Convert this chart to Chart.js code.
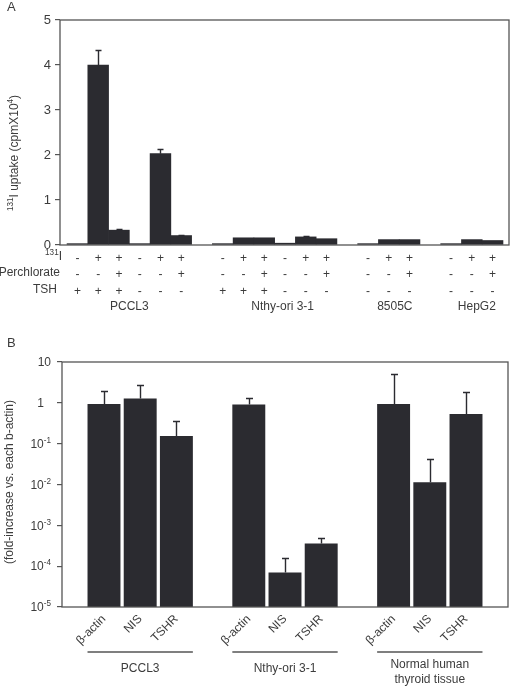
<!DOCTYPE html>
<html>
<head>
<meta charset="utf-8">
<script src="https://cdn.jsdelivr.net/npm/chart.js@4.4.0/dist/chart.umd.min.js"></script>
<style>
  body { margin: 0; background: #fff; width: 513px; height: 687px; overflow: hidden; position: relative; }
  .panel { position: absolute; left: 0; }
  #wrapA { top: 0; }
  #wrapB { top: 330px; }
</style>
</head>
<body>
<div class="panel" id="wrapA"><canvas id="chartA" width="513" height="320"></canvas></div>
<div class="panel" id="wrapB"><canvas id="chartB" width="513" height="357"></canvas></div>
<script>
// ---- Panel A: 131I uptake ----
// slot index of each bar on the x axis (6, 13 and 17 are the gaps between cell lines)
const uptakeSlots = [0, 1, 2, 3, 4, 5, 7, 8, 9, 10, 11, 12, 14, 15, 16, 18, 19, 20];
const uptake = [0.03, 4.0, 0.33, 0.03, 2.03, 0.21, 0.03, 0.16, 0.16, 0.04, 0.18, 0.14, 0.03, 0.12, 0.12, 0.03, 0.12, 0.10];
const uptakeErr = [null, 4.33, 0.36, null, 2.13, 0.23, null, null, null, null, 0.21, null, null, null, null, null, null, null];
const iodineRow = ['-', '+', '+', '-', '+', '+', '-', '+', '+', '-', '+', '+', '-', '+', '+', '-', '+', '+'];
const perchlorateRow = ['-', '-', '+', '-', '-', '+', '-', '-', '+', '-', '-', '+', '-', '-', '+', '-', '-', '+'];
const tshRow = ['+', '+', '+', '-', '-', '-', '+', '+', '+', '-', '-', '-', '-', '-', '-', '-', '-', '-'];
const cellLinesA = ['PCCL3', 'Nthy-ori 3-1', '8505C', 'HepG2'];
const cellLineSpanA = [[0, 5], [7, 12], [14, 16], [18, 20]];
const yTicksA = [0, 1, 2, 3, 4, 5];

// ---- Panel B: relative expression (log scale) ----
const exprSlots = [0, 1, 2, 4, 5, 6, 8, 9, 10];
const genes = ['β-actin', 'NIS', 'TSHR', 'β-actin', 'NIS', 'TSHR', 'β-actin', 'NIS', 'TSHR'];
const expr = [0.93, 1.27, 0.155, 0.91, 7e-5, 3.6e-4, 0.93, 0.0114, 0.53];
const exprErr = [1.93, 2.7, 0.36, 1.32, 1.55e-4, 4.8e-4, 5.2, 0.041, 1.82];
const tissuesB = [['PCCL3'], ['Nthy-ori 3-1'], ['Normal human', 'thyroid tissue']];
const tissueSpanB = [[0, 2], [4, 6], [8, 10]];
const yTicksB = [1e-5, 1e-4, 1e-3, 1e-2, 1e-1, 1, 10];

const barColor = '#2b2b30';
const axisColor = '#555';
const textColor = '#3c3c3c';
const fontFamily = '"Liberation Sans", Arial, sans-serif';

Chart.defaults.font.family = fontFamily;
Chart.defaults.color = textColor;
Chart.defaults.animation = false;

// text with superscript parts: parts = [[text, isSup], ...]
function richWidth(ctx, parts, size) {
  let w = 0;
  parts.forEach(([t, sup]) => {
    ctx.font = (sup ? size * 0.68 : size) + 'px ' + fontFamily;
    w += ctx.measureText(t).width;
  });
  return w;
}
function drawRich(ctx, parts, x, y, size, align) {
  const w = richWidth(ctx, parts, size);
  let cx = align === 'right' ? x - w : align === 'center' ? x - w / 2 : x;
  ctx.textAlign = 'left';
  ctx.textBaseline = 'alphabetic';
  parts.forEach(([t, sup]) => {
    ctx.font = (sup ? size * 0.68 : size) + 'px ' + fontFamily;
    ctx.fillText(t, cx, y + size * 0.36 - (sup ? size * 0.42 : 0));
    cx += ctx.measureText(t).width;
  });
}

// error bars, frame and extra labels, all placed through the chart scales
function extrasPlugin(cfg) {
  return {
    id: 'extras' + cfg.name,
    afterDatasetsDraw(chart) {
      const { ctx, chartArea: a, scales: { x, y } } = chart;
      ctx.save();
      // error bars (upper only)
      ctx.strokeStyle = barColor;
      ctx.lineWidth = 1.4;
      cfg.err.forEach((e, i) => {
        if (e == null) return;
        const px = Math.round(x.getPixelForValue(cfg.slots[i])) + 0.5;
        const y0 = y.getPixelForValue(cfg.values[i]);
        const y1 = Math.round(y.getPixelForValue(e)) + 0.5;
        ctx.beginPath();
        ctx.moveTo(px, y0);
        ctx.lineTo(px, y1);
        ctx.moveTo(px - cfg.cap, y1);
        ctx.lineTo(px + cfg.cap, y1);
        ctx.stroke();
      });
      // box frame
      ctx.strokeStyle = axisColor;
      ctx.lineWidth = 1.3;
      ctx.strokeRect(a.left, a.top, a.right - a.left, a.bottom - a.top);
      // panel letter
      ctx.fillStyle = textColor;
      ctx.font = '13px ' + fontFamily;
      ctx.textAlign = 'left';
      ctx.textBaseline = 'middle';
      ctx.fillText(cfg.letter, 7, cfg.letterY);
      // y axis title
      ctx.save();
      ctx.translate(cfg.titleX, cfg.titleY);
      ctx.rotate(-Math.PI / 2);
      drawRich(ctx, cfg.title, 0, 0, cfg.titleFont, 'center');
      ctx.restore();
      cfg.draw(ctx, chart);
      ctx.restore();
    }
  };
}

// ---------- Chart A ----------
new Chart(document.getElementById('chartA'), {
  type: 'bar',
  data: {
    datasets: [{
      data: uptakeSlots.map((s, i) => ({ x: s, y: uptake[i] })),
      backgroundColor: barColor,
      borderWidth: 0,
      barPercentage: 1,
      categoryPercentage: 1
    }]
  },
  options: {
    responsive: false,
    layout: { padding: { top: 20, right: 4, left: 0, bottom: 0 } },
    plugins: { legend: { display: false }, tooltip: { enabled: false } },
    scales: {
      x: {
        type: 'linear',
        offset: false,
        min: -0.84,
        max: 20.79,
        grid: { display: false, drawTicks: false },
        border: { display: false },
        afterBuildTicks: s => { s.ticks = uptakeSlots.map(v => ({ value: v })); },
        afterFit: s => { s.height = 75; },
        ticks: {
          autoSkip: false,
          maxRotation: 0,
          padding: 6,
          font: { size: 12, lineHeight: 1.34 },
          color: textColor,
          callback: v => {
            const k = uptakeSlots.indexOf(v);
            return k < 0 ? '' : [iodineRow[k], perchlorateRow[k], tshRow[k]];
          }
        }
      },
      y: {
        min: 0,
        max: 5,
        grid: { drawOnChartArea: false, tickLength: 5, color: axisColor, lineWidth: 1.2 },
        border: { display: false },
        afterBuildTicks: s => { s.ticks = yTicksA.map(v => ({ value: v })); },
        afterFit: s => { s.width = 60; },
        ticks: { padding: 4, font: { size: 13 }, color: textColor }
      }
    }
  },
  plugins: [extrasPlugin({
    name: 'A', slots: uptakeSlots, values: uptake, err: uptakeErr, cap: 3,
    letter: 'A', letterY: 7,
    title: [['131', true], ['I uptake (cpmX10', false], ['4', true], [')', false]],
    titleX: 14, titleY: 153, titleFont: 12,
    draw(ctx, chart) {
      const x = chart.scales.x;
      drawRich(ctx, [['131', true], ['I', false]], 62, 256, 12, 'right');
      drawRich(ctx, [['Perchlorate', false]], 60, 272, 12, 'right');
      drawRich(ctx, [['TSH', false]], 57, 289, 12, 'right');
      const nudge = [0, 8, 6, 5];
      cellLinesA.forEach((t, i) => {
        const [a, b] = cellLineSpanA[i];
        const cx = (x.getPixelForValue(a) + x.getPixelForValue(b)) / 2 + nudge[i];
        drawRich(ctx, [[t, false]], cx, 306, 12, 'center');
      });
    }
  })]
});

// ---------- Chart B ----------
const expParts = v => {
  const e = Math.round(Math.log10(v));
  if (e === 1) return [['10', false]];
  if (e === 0) return [['1', false]];
  return [['10', false], [String(e), true]];
};

new Chart(document.getElementById('chartB'), {
  type: 'bar',
  data: {
    datasets: [{
      data: exprSlots.map((s, i) => ({ x: s, y: expr[i] })),
      backgroundColor: barColor,
      borderWidth: 0,
      barPercentage: 0.91,
      categoryPercentage: 1
    }]
  },
  options: {
    responsive: false,
    layout: { padding: { top: 32, right: 5, left: 0, bottom: 0 } },
    plugins: { legend: { display: false }, tooltip: { enabled: false } },
    scales: {
      x: {
        type: 'linear',
        offset: false,
        min: -1.16,
        max: 11.16,
        grid: { display: false, drawTicks: false },
        border: { display: false },
        afterBuildTicks: s => { s.ticks = exprSlots.map(v => ({ value: v })); },
        afterFit: s => { s.height = 80; },
        ticks: {
          autoSkip: false,
          minRotation: 45,
          maxRotation: 45,
          padding: 5,
          font: { size: 12 },
          color: textColor,
          callback: v => {
            const k = exprSlots.indexOf(v);
            return k < 0 ? '' : genes[k];
          }
        }
      },
      y: {
        type: 'logarithmic',
        min: 1e-5,
        max: 10,
        grid: { drawOnChartArea: false, tickLength: 5, color: axisColor, lineWidth: 1.2 },
        border: { display: false },
        afterBuildTicks: s => { s.ticks = yTicksB.map(v => ({ value: v })); },
        afterFit: s => { s.width = 62; },
        // labels with superscripts are written by the plugin at these ticks
        ticks: { callback: () => '' }
      }
    }
  },
  plugins: [extrasPlugin({
    name: 'B', slots: exprSlots, values: expr, err: exprErr, cap: 3.5,
    letter: 'B', letterY: 13,
    title: [['(fold-increase vs. each b-actin)', false]],
    titleX: 9, titleY: 152, titleFont: 12,
    draw(ctx, chart) {
      const { x, y } = chart.scales;
      yTicksB.forEach(v => {
        const right = v === 1 ? 44 : 51;
        drawRich(ctx, expParts(v), right, y.getPixelForValue(v), 12, 'right');
      });
      const half = chart.getDatasetMeta(0).data[0].width / 2;
      ctx.strokeStyle = axisColor;
      ctx.lineWidth = 1.3;
      tissuesB.forEach((lines, i) => {
        const [a, b] = tissueSpanB[i];
        const x0 = x.getPixelForValue(a) - half;
        const x1 = x.getPixelForValue(b) + half;
        ctx.beginPath();
        ctx.moveTo(x0, 322);
        ctx.lineTo(x1, 322);
        ctx.stroke();
        const top = lines.length > 1 ? 334 : 338;
        lines.forEach((t, j) => drawRich(ctx, [[t, false]], (x0 + x1) / 2, top + j * 15, 12, 'center'));
      });
    }
  })]
});
</script>
</body>
</html>
